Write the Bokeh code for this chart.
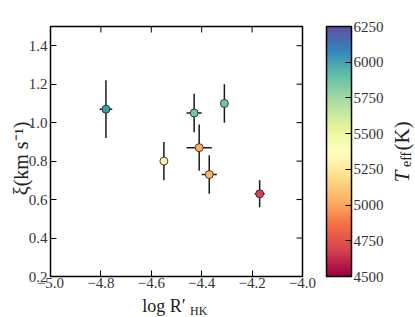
import numpy as np
from bokeh.plotting import figure
from bokeh.models import (ColumnDataSource, LinearColorMapper, ColorBar, FixedTicker,
                          Label, CustomJSTickFormatter, Range1d)
from bokeh.embed import file_html
from bokeh.resources import INLINE

# ---- data ----
log_rhk = [-4.78, -4.55, -4.43, -4.41, -4.37, -4.31, -4.17]
log_rhk_err = [0.025, 0.015, 0.03, 0.05, 0.03, 0.015, 0.02]
xi = [1.07, 0.80, 1.05, 0.87, 0.73, 1.10, 0.63]
xi_err = [0.15, 0.10, 0.10, 0.12, 0.10, 0.10, 0.07]
teff = [6020, 5290, 5870, 5025, 5045, 5870, 4690]

x_ticks = [-5.0, -4.8, -4.6, -4.4, -4.2, -4.0]
y_ticks = [0.2, 0.4, 0.6, 0.8, 1.0, 1.2, 1.4]
cb_ticks = [4500, 4750, 5000, 5250, 5500, 5750, 6000, 6250]

anchors = ['#9e0142', '#d53e4f', '#f46d43', '#fdae61', '#fee08b', '#ffffbf',
           '#e6f598', '#abdda4', '#66c2a5', '#3288bd', '#5e4fa2']
rgb = np.array([[int(c[i:i + 2], 16) for i in (1, 3, 5)] for c in anchors], dtype=float)
t = np.linspace(0, 1, 256)
pos = np.linspace(0, 1, len(anchors))
palette = ['#%02x%02x%02x' % tuple(int(round(np.interp(tt, pos, rgb[:, k]))) for k in range(3)) for tt in t]
mapper = LinearColorMapper(palette=palette, low=4500, high=6250)

FONT = "Liberation Serif"
TXT = "#222222"
TICK_TXT = "#333333"

src = ColumnDataSource(dict(
    x=log_rhk, y=xi, t=teff,
    x0=[a - e for a, e in zip(log_rhk, log_rhk_err)],
    x1=[a + e for a, e in zip(log_rhk, log_rhk_err)],
    y0=[a - e for a, e in zip(xi, xi_err)],
    y1=[a + e for a, e in zip(xi, xi_err)],
))
xr = Range1d(-5.0, -4.0)
yr = Range1d(0.2, 1.5)
p = figure(width=415, height=317, output_backend="svg", toolbar_location=None,
           x_range=xr, y_range=yr,
           min_border_left=50, min_border_right=113, min_border_top=25, min_border_bottom=41)
p.grid.visible = False
p.outline_line_color = "black"
p.outline_line_width = 1.5

fmt = CustomJSTickFormatter(code="return tick.toFixed(1).replace('-', '\u2212');")
for ax in (p.xaxis[0], p.yaxis[0]):
    ax.axis_line_color = None
    ax.major_tick_in = 6
    ax.major_tick_out = 0
    ax.minor_tick_line_color = None
    ax.major_tick_line_color = "black"
    ax.major_label_text_font = FONT
    ax.major_label_text_font_size = "15px"
    ax.major_label_text_color = TICK_TXT
    ax.formatter = fmt
p.xaxis.ticker = FixedTicker(ticks=x_ticks)
p.yaxis.ticker = FixedTicker(ticks=y_ticks)
p.xaxis.major_label_standoff = 1
p.yaxis.major_label_standoff = 3

# inward ticks on top and right edges
p.ray(x=x_ticks, y=yr.end, length=6, length_units="screen", angle=-np.pi / 2,
      line_color="black", line_width=1)
p.ray(x=xr.end, y=y_ticks, length=6, length_units="screen", angle=np.pi,
      line_color="black", line_width=1)

# error bars and points
p.segment(x0="x0", y0="y", x1="x1", y1="y", source=src, line_color="#1a1a1a", line_width=1.5)
p.segment(x0="x", y0="y0", x1="x", y1="y1", source=src, line_color="#1a1a1a", line_width=1.5)
p.scatter(x="x", y="y", source=src, size=8, marker="circle",
          fill_color={'field': 't', 'transform': mapper}, line_color="#1a1a1a", line_width=0.8)


def lab(text, x, y, size, angle=0.0, align="left", style="normal"):
    return Label(x=x, y=y, x_units="canvas", y_units="canvas", text=text, angle=angle,
                 text_align=align, text_baseline="alphabetic", text_font=FONT,
                 text_font_style=style, text_font_size=size, text_color=TXT)


# left: y label
p.add_layout(lab("\u03be(km s\u207b\u00b9)", 20, 158, "20px", np.pi / 2, "center"), "left")
# top: italic T of T_eff and the HK subscript
p.add_layout(lab("T", 401.7, 181.7, "21px", np.pi / 2, style="italic"), "above")
p.add_layout(lab("HK", 189.5, 310.5, "12px"), "above")
# bottom: x label
p.add_layout(lab("log R\u2032", 141.7, 305.7, "18px"), "below")
# right: (K), colour bar, eff
p.add_layout(lab("(K)", 401.7, 150, "21px", np.pi / 2), "right")
cb = ColorBar(color_mapper=mapper, ticker=FixedTicker(ticks=cb_ticks), width=25,
              padding=0, margin=0, bar_line_color="black", bar_line_width=1.5,
              major_tick_in=6, major_tick_out=0, major_tick_line_color="black",
              minor_tick_line_color=None, label_standoff=2,
              major_label_text_font=FONT, major_label_text_font_size="15px",
              major_label_text_color=TICK_TXT)
p.add_layout(cb, "right")
p.add_layout(lab("eff", 405.5, 166.5, "14px", np.pi / 2), "right")

open("out.html", "w").write(file_html(p, INLINE))
